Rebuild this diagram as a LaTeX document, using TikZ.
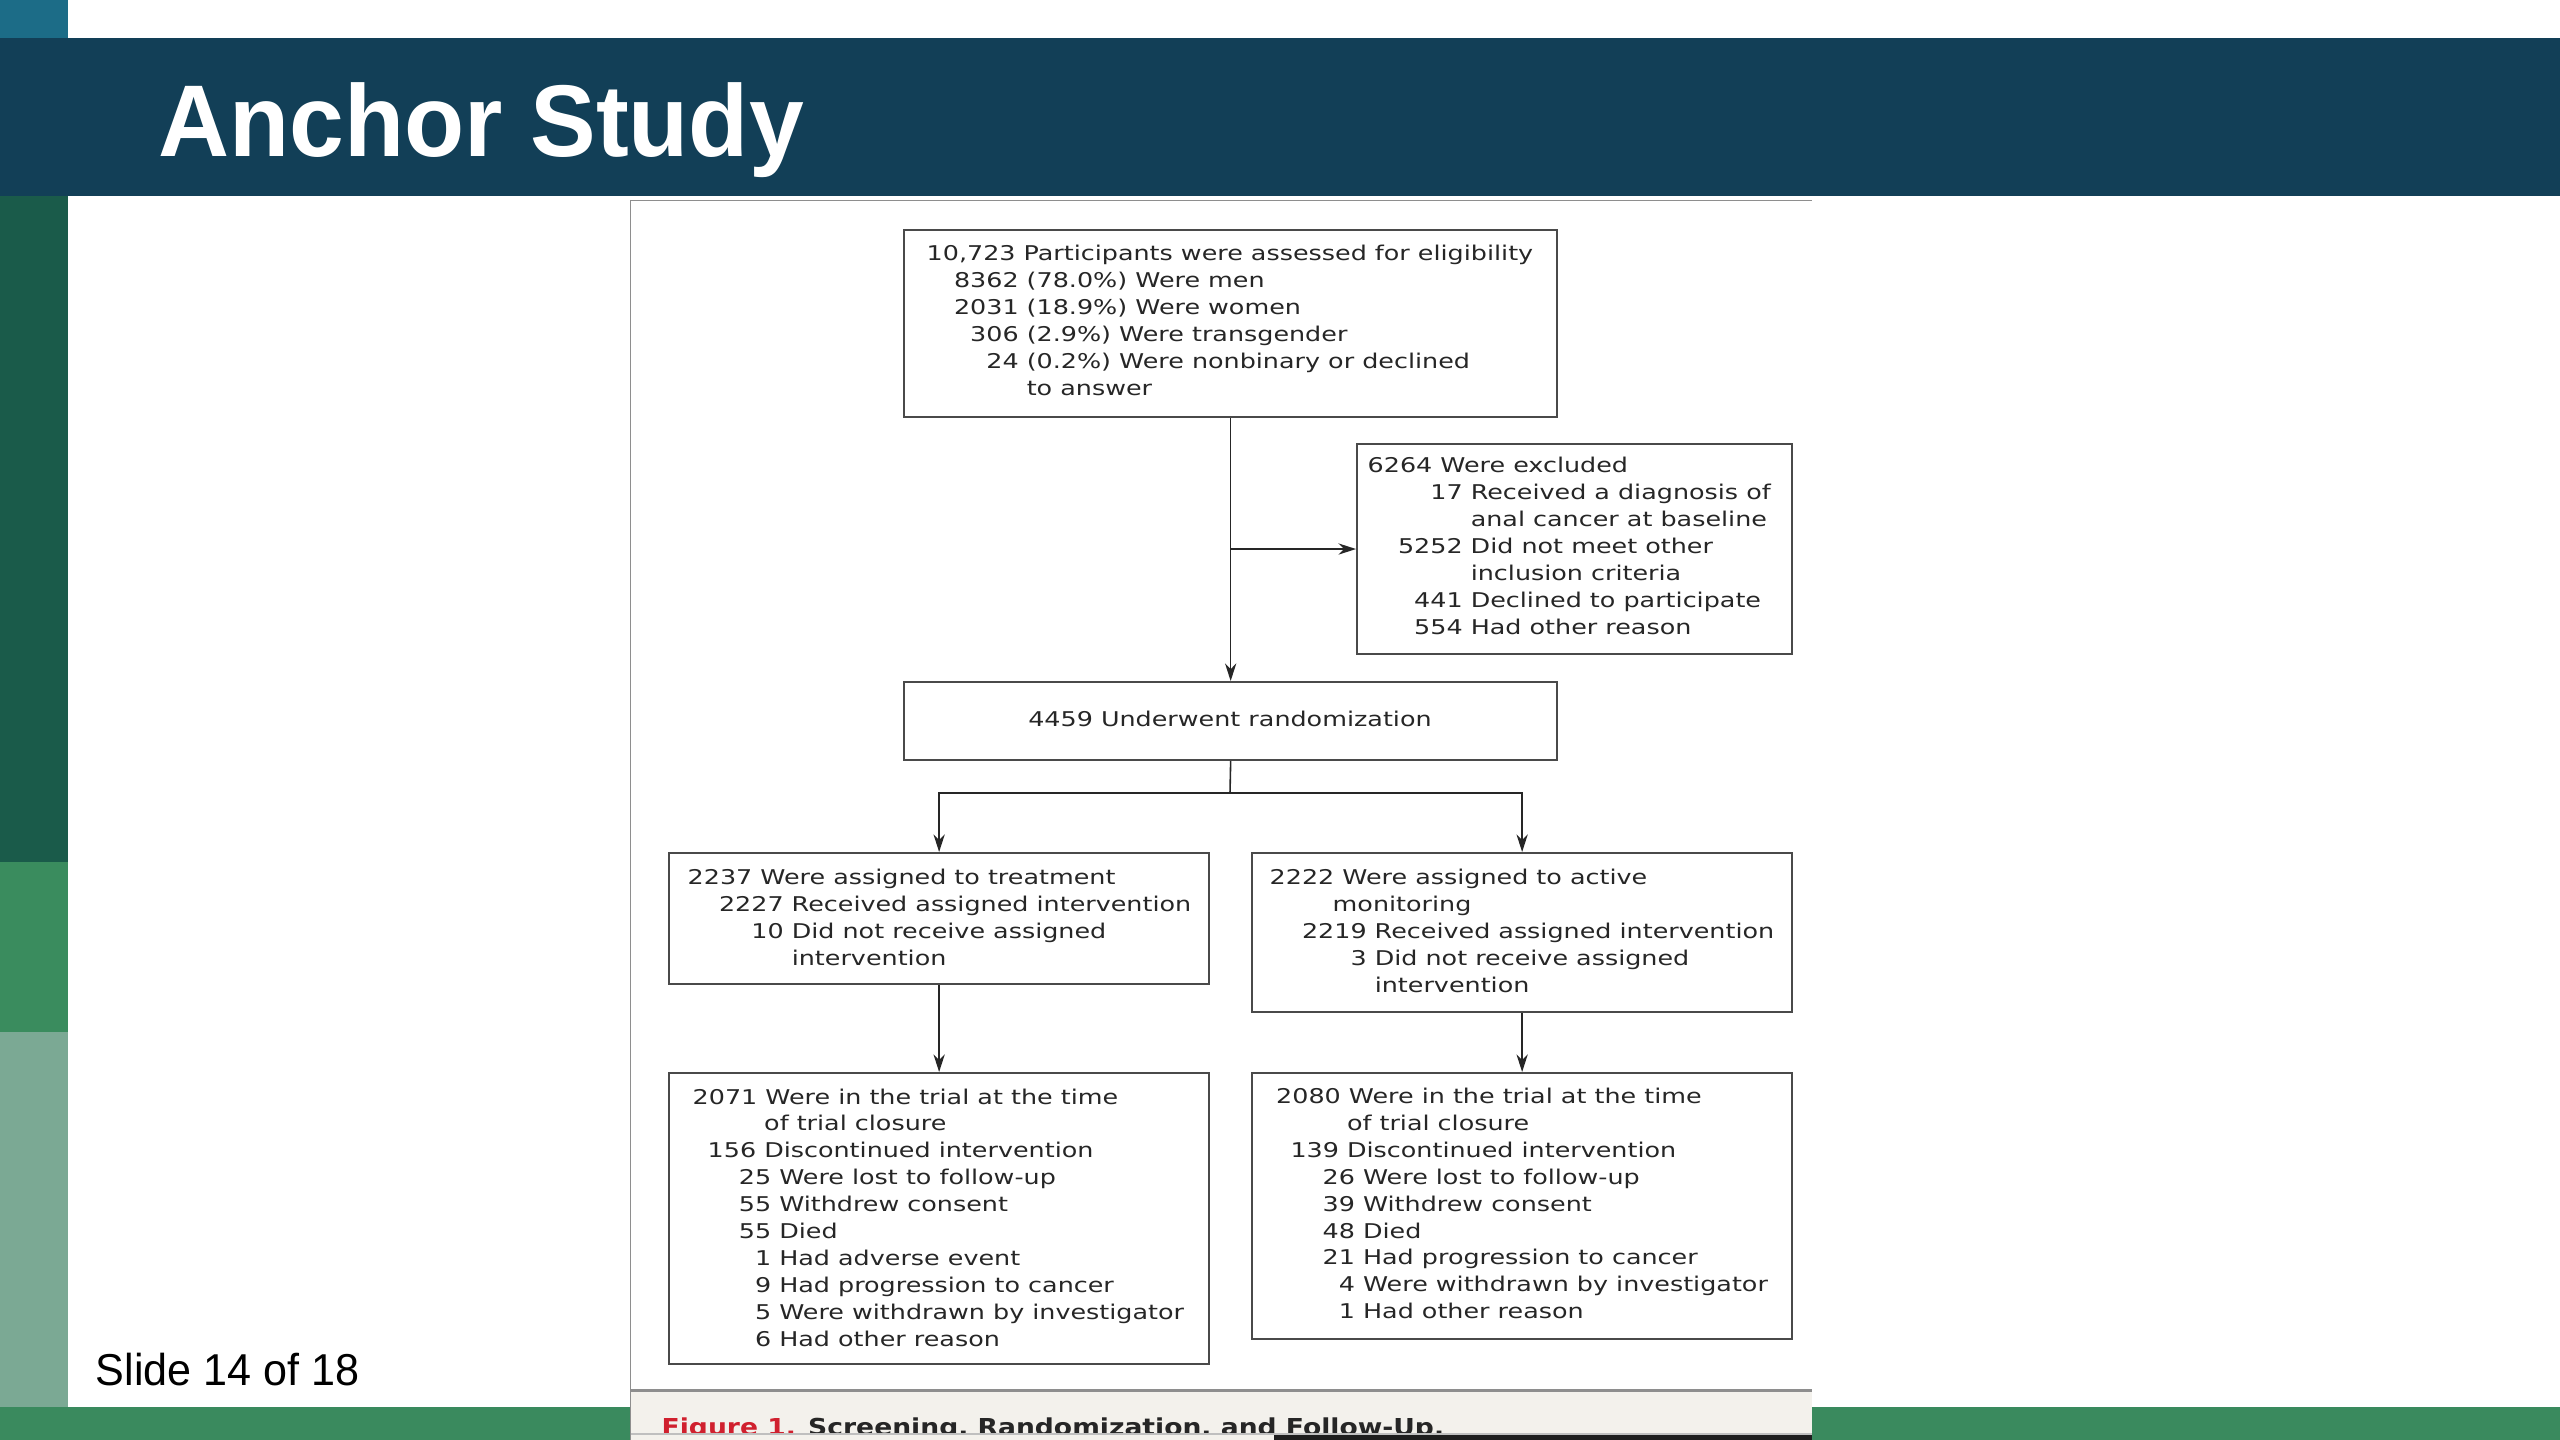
\documentclass[tikz,border=0pt]{standalone}
\usepackage{fontspec}
\usetikzlibrary{arrows.meta}
\setmainfont{DejaVu Sans}
\newfontfamily\figfont[FakeStretch=1.25]{DejaVu Sans}
\newfontfamily\capfont[FakeStretch=1.14]{DejaVu Sans}
\newfontfamily\slidefont[FakeStretch=0.965]{Liberation Sans}
\newlength\pxu
\setlength\pxu{0.01cm}
\newcommand\nb[2]{\makebox[#1\pxu][r]{#2}\ }
\definecolor{teal}{HTML}{1C6C87}
\definecolor{headblue}{HTML}{123F57}
\definecolor{dgreen}{HTML}{1A5B4A}
\definecolor{mgreen}{HTML}{3A8C5E}
\definecolor{ggreen}{HTML}{7BA994}
\definecolor{bargreen}{HTML}{3A8A5E}
\definecolor{capbg}{HTML}{F3F1EC}
\definecolor{figgray}{HTML}{8E8E8E}
\definecolor{boxgray}{HTML}{4A4A4A}
\definecolor{txtgray}{HTML}{262626}
\definecolor{nejmred}{HTML}{D0202E}
\definecolor{strip}{HTML}{1E1E1E}
\tikzset{
  fbox/.style={draw=boxgray, line width=0.55pt, inner sep=0pt, rectangle},
  ftxt/.style={inner sep=0pt, anchor=base west, text=txtgray,
    font=\figfont\fontsize{5.78pt}{7.65pt}\selectfont},
  conn/.style={draw=txtgray, line width=0.45pt},
  arr/.style={conn, -{Stealth[length=5pt,width=3.2pt]}}
}
\newenvironment{lines}{\begin{tabular}[t]{@{}l@{}}}{\end{tabular}}
\begin{document}
\begin{tikzpicture}[x=0.01cm, y=-0.01cm]
\useasboundingbox (0,0) rectangle (2560,1440);
% slide background
\fill[white] (0,0) rectangle (2560,1440);
\fill[teal] (0,0) rectangle (68,38);
\fill[headblue] (0,38) rectangle (2560,196);
\fill[dgreen] (0,196) rectangle (68,862);
\fill[mgreen] (0,862) rectangle (68,1032);
\fill[ggreen] (0,1032) rectangle (68,1407);
\fill[bargreen] (0,1407) rectangle (2560,1440);
\node[anchor=base west, inner sep=0pt, text=white,
  font=\slidefont\bfseries\fontsize{29pt}{34pt}\selectfont] (title) at (158,157) {Anchor Study};
\node[anchor=base west, inner sep=0pt, text=black,
  font=\slidefont\fontsize{12.7pt}{15pt}\selectfont] (slideno) at (95,1385) {Slide 14 of 18};
% figure panel
\fill[white] (630,200) rectangle (1812,1440);
\fill[capbg] (631,1392) rectangle (1812,1440);
\draw[figgray, line width=0.6pt] (630,1390.5) -- (1812,1390.5);
\draw[figgray, line width=0.55pt] (630,200.5) -- (1812,200.5);
\draw[figgray, line width=0.55pt] (630.5,200) -- (630.5,1440);
\begin{scope}
\clip (631,1393) rectangle (1812,1434);
\node[anchor=base west, inner sep=0pt, text=txtgray,
  font=\capfont\bfseries\fontsize{6.63pt}{8pt}\selectfont] (caption) at (661,1435)
  {\textcolor{nejmred}{Figure 1.} Screening, Randomization, and Follow-Up.};
\end{scope}
\draw[black!25, line width=0.3pt] (631,1434) -- (1812,1434);
\fill[strip] (1274,1435) rectangle (1812,1440);
% boxes
\node[fbox, minimum width=6.53cm, minimum height=1.87cm, anchor=north west] (b1) at (903,229) {};
\node[fbox, minimum width=4.35cm, minimum height=2.10cm, anchor=north west] (ex) at (1356,443) {};
\node[fbox, minimum width=6.53cm, minimum height=0.78cm, anchor=north west] (rnd) at (903,681) {};
\node[fbox, minimum width=5.40cm, minimum height=1.31cm, anchor=north west] (l2) at (668,852) {};
\node[fbox, minimum width=5.40cm, minimum height=1.59cm, anchor=north west] (r2) at (1251,852) {};
\node[fbox, minimum width=5.40cm, minimum height=2.91cm, anchor=north west] (l3) at (668,1072) {};
\node[fbox, minimum width=5.40cm, minimum height=2.66cm, anchor=north west] (r3) at (1251,1072) {};
% texts
\node[ftxt] (b1t) at (926,261) {\begin{lines}
10,723 Participants were assessed for eligibility\\
\nb{92}{8362}(78.0\%) Were men\\
\nb{92}{2031}(18.9\%) Were women\\
\nb{92}{306}(2.9\%) Were transgender\\
\nb{92}{24}(0.2\%) Were nonbinary or declined\\
\nb{92}{}to answer
\end{lines}};
\node[ftxt] (ext) at (1367,473) {\begin{lines}
6264 Were excluded\\
\nb{95}{17}Received a diagnosis of\\
\nb{95}{}anal cancer at baseline\\
\nb{95}{5252}Did not meet other\\
\nb{95}{}inclusion criteria\\
\nb{95}{441}Declined to participate\\
\nb{95}{554}Had other reason
\end{lines}};
\node[ftxt, anchor=base] (rndt) at (1230,727) {4459 Underwent randomization};
\node[ftxt] (l2t) at (687,885) {\begin{lines}
2237 Were assigned to treatment\\
\nb{96}{2227}Received assigned intervention\\
\nb{96}{10}Did not receive assigned\\
\nb{96}{}intervention
\end{lines}};
\node[ftxt] (r2t) at (1269,885) {\begin{lines}
2222 Were assigned to active\\
\hspace*{63\pxu}monitoring\\
\nb{97}{2219}Received assigned intervention\\
\nb{97}{3}Did not receive assigned\\
\nb{97}{}intervention
\end{lines}};
\node[ftxt] (l3t) at (692,1104) {\begin{lines}
2071 Were in the trial at the time\\
\hspace*{71.5\pxu}of trial closure\\
\nb{63.5}{156}Discontinued intervention\\
\nb{78.5}{25}Were lost to follow-up\\
\nb{78.5}{55}Withdrew consent\\
\nb{78.5}{55}Died\\
\nb{78.5}{1}Had adverse event\\
\nb{78.5}{9}Had progression to cancer\\
\nb{78.5}{5}Were withdrawn by investigator\\
\nb{78.5}{6}Had other reason
\end{lines}};
\node[ftxt] (r3t) at (1275.5,1103.5) {\begin{lines}
2080 Were in the trial at the time\\
\hspace*{70.8\pxu}of trial closure\\
\nb{62.8}{139}Discontinued intervention\\
\nb{78.8}{26}Were lost to follow-up\\
\nb{78.8}{39}Withdrew consent\\
\nb{78.8}{48}Died\\
\nb{78.8}{21}Had progression to cancer\\
\nb{78.8}{4}Were withdrawn by investigator\\
\nb{78.8}{1}Had other reason
\end{lines}};
% connectors
\draw[arr] (b1.south) -- (rnd.north);
\draw[arr] (b1.south |- ex.west) -- (ex.west);
\coordinate (br) at (1230,793);
\draw[conn] (rnd.south) -- (br);
\draw[arr] (br) -| (l2.north);
\draw[arr] (br) -| (r2.north);
\draw[arr] (l2.south) -- (l3.north);
\draw[arr] (r2.south) -- (r3.north);
\end{tikzpicture}
\end{document}
